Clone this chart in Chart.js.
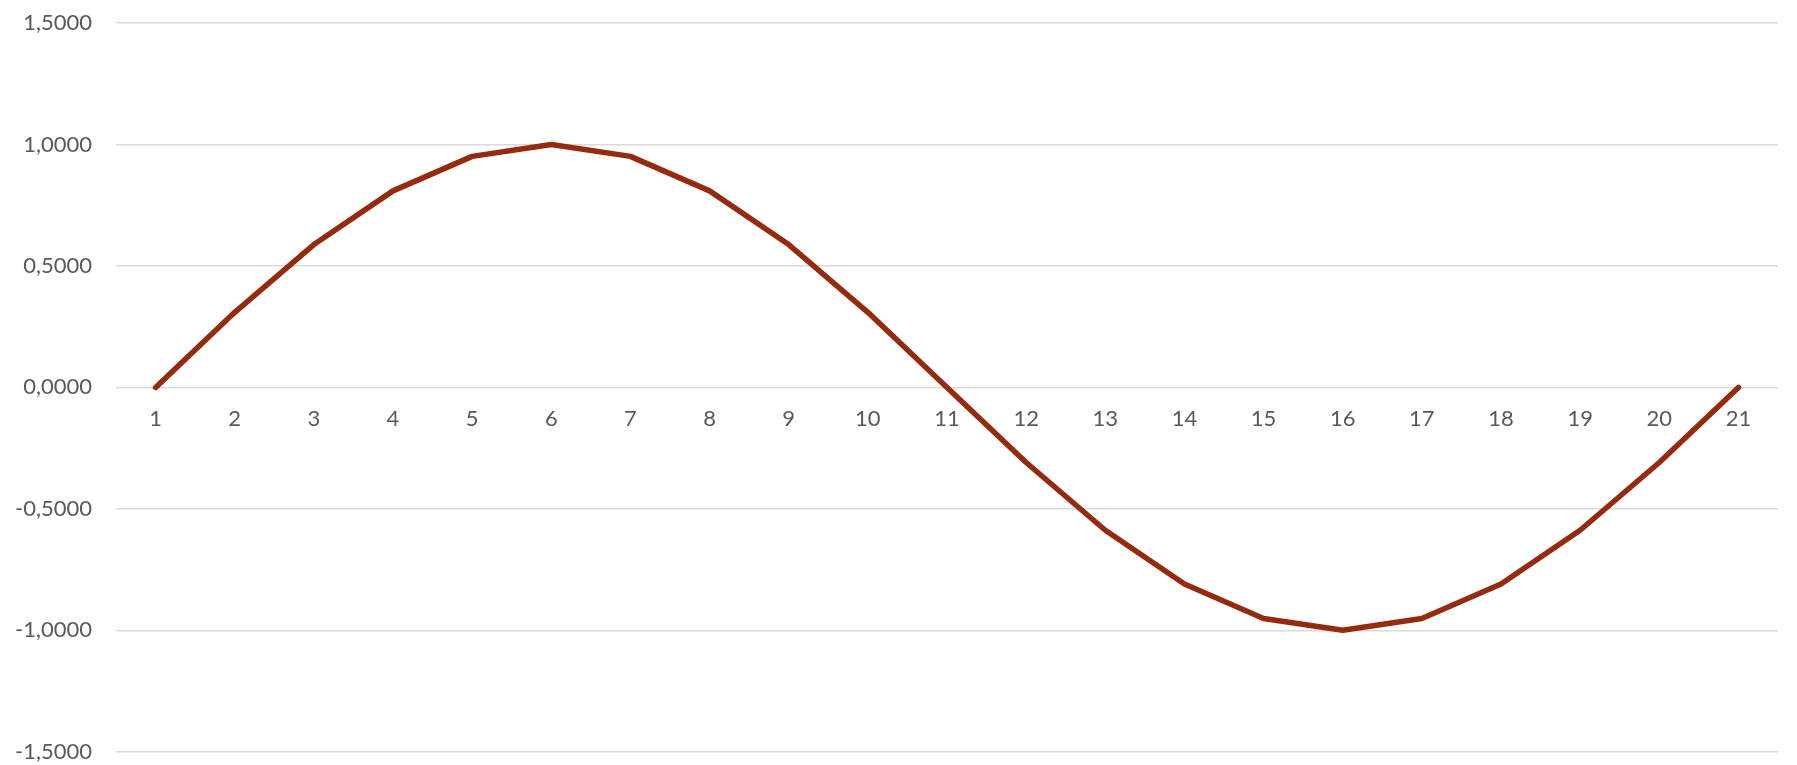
<!DOCTYPE html>
<html>
<head>
<meta charset="utf-8">
<script src="https://cdn.jsdelivr.net/npm/chart.js@4/dist/chart.umd.min.js"></script>
<style>
  html, body { margin: 0; padding: 0; background: #fff; }
</style>
</head>
<body>
<canvas id="LineChartCanvas" width="1797" height="765"></canvas>
<script>
// categories along the x axis
const categories = ['1', '2', '3', '4', '5', '6', '7', '8', '9', '10', '11',
  '12', '13', '14', '15', '16', '17', '18', '19', '20', '21'];

// series values
const seriesValues = [0, 0.309, 0.588, 0.809, 0.951, 1.0, 0.951, 0.809, 0.588, 0.309, 0,
  -0.309, -0.588, -0.809, -0.951, -1.0, -0.951, -0.809, -0.588, -0.309, 0];

// y axis tick range
const yTicks = [-1.5, -1.0, -0.5, 0, 0.5, 1.0, 1.5];

const LINE_COLOR = '#952a0e';
const TEXT_COLOR = '#595959';
const GRID_COLOR = '#d9d9d9';
const FONT_FAMILY = 'Lato, "Open Sans", sans-serif';
const FONT_SIZE = 22;

/**
 * format as 1,5000 (comma decimal, 4 places)
 */
const formatTick = value => value.toFixed(4).replace('.', ',');

const ctx = document.getElementById('LineChartCanvas').getContext('2d');

window.LineChartRef = new Chart(ctx, {
  type: 'line',
  data: {
    labels: categories,
    datasets: [
      {
        label: 'Series 1',
        data: seriesValues,
        borderColor: LINE_COLOR,
        backgroundColor: LINE_COLOR,
        borderWidth: 5.5,
        borderCapStyle: 'round',
        borderJoinStyle: 'round',
        pointRadius: 0,
        tension: 0,
      },
    ],
  },
  options: {
    responsive: false,
    animation: false,
    layout: {
      padding: { top: 23, right: 19, bottom: 13, left: 0 },
    },
    plugins: {
      legend: { display: false },
      tooltip: { enabled: false },
    },
    scales: {
      x: {
        type: 'category',
        offset: true,
        position: { y: 0 },
        // axis sits across the plot at zero, so it takes no layout space
        afterFit(scale) {
          scale.height = 0;
        },
        grid: { display: false, offset: true },
        border: { display: false },
        ticks: {
          color: TEXT_COLOR,
          font: { family: FONT_FAMILY, size: FONT_SIZE },
          padding: 10,
          maxRotation: 0,
          autoSkip: false,
        },
      },
      y: {
        min: yTicks[0],
        max: yTicks[yTicks.length - 1],
        afterBuildTicks(scale) {
          scale.ticks = yTicks.map(value => ({ value }));
        },
        // fixed width: labels + gap before the gridlines
        afterFit(scale) {
          scale.width = 116;
        },
        grid: {
          color: GRID_COLOR,
          lineWidth: 1.5,
          drawTicks: true,
          tickLength: 24,
          tickColor: 'transparent',
        },
        border: { display: false },
        ticks: {
          color: TEXT_COLOR,
          font: { family: FONT_FAMILY, size: FONT_SIZE },
          padding: 0,
          callback: value => formatTick(value),
        },
      },
    },
  },
});
</script>
</body>
</html>
